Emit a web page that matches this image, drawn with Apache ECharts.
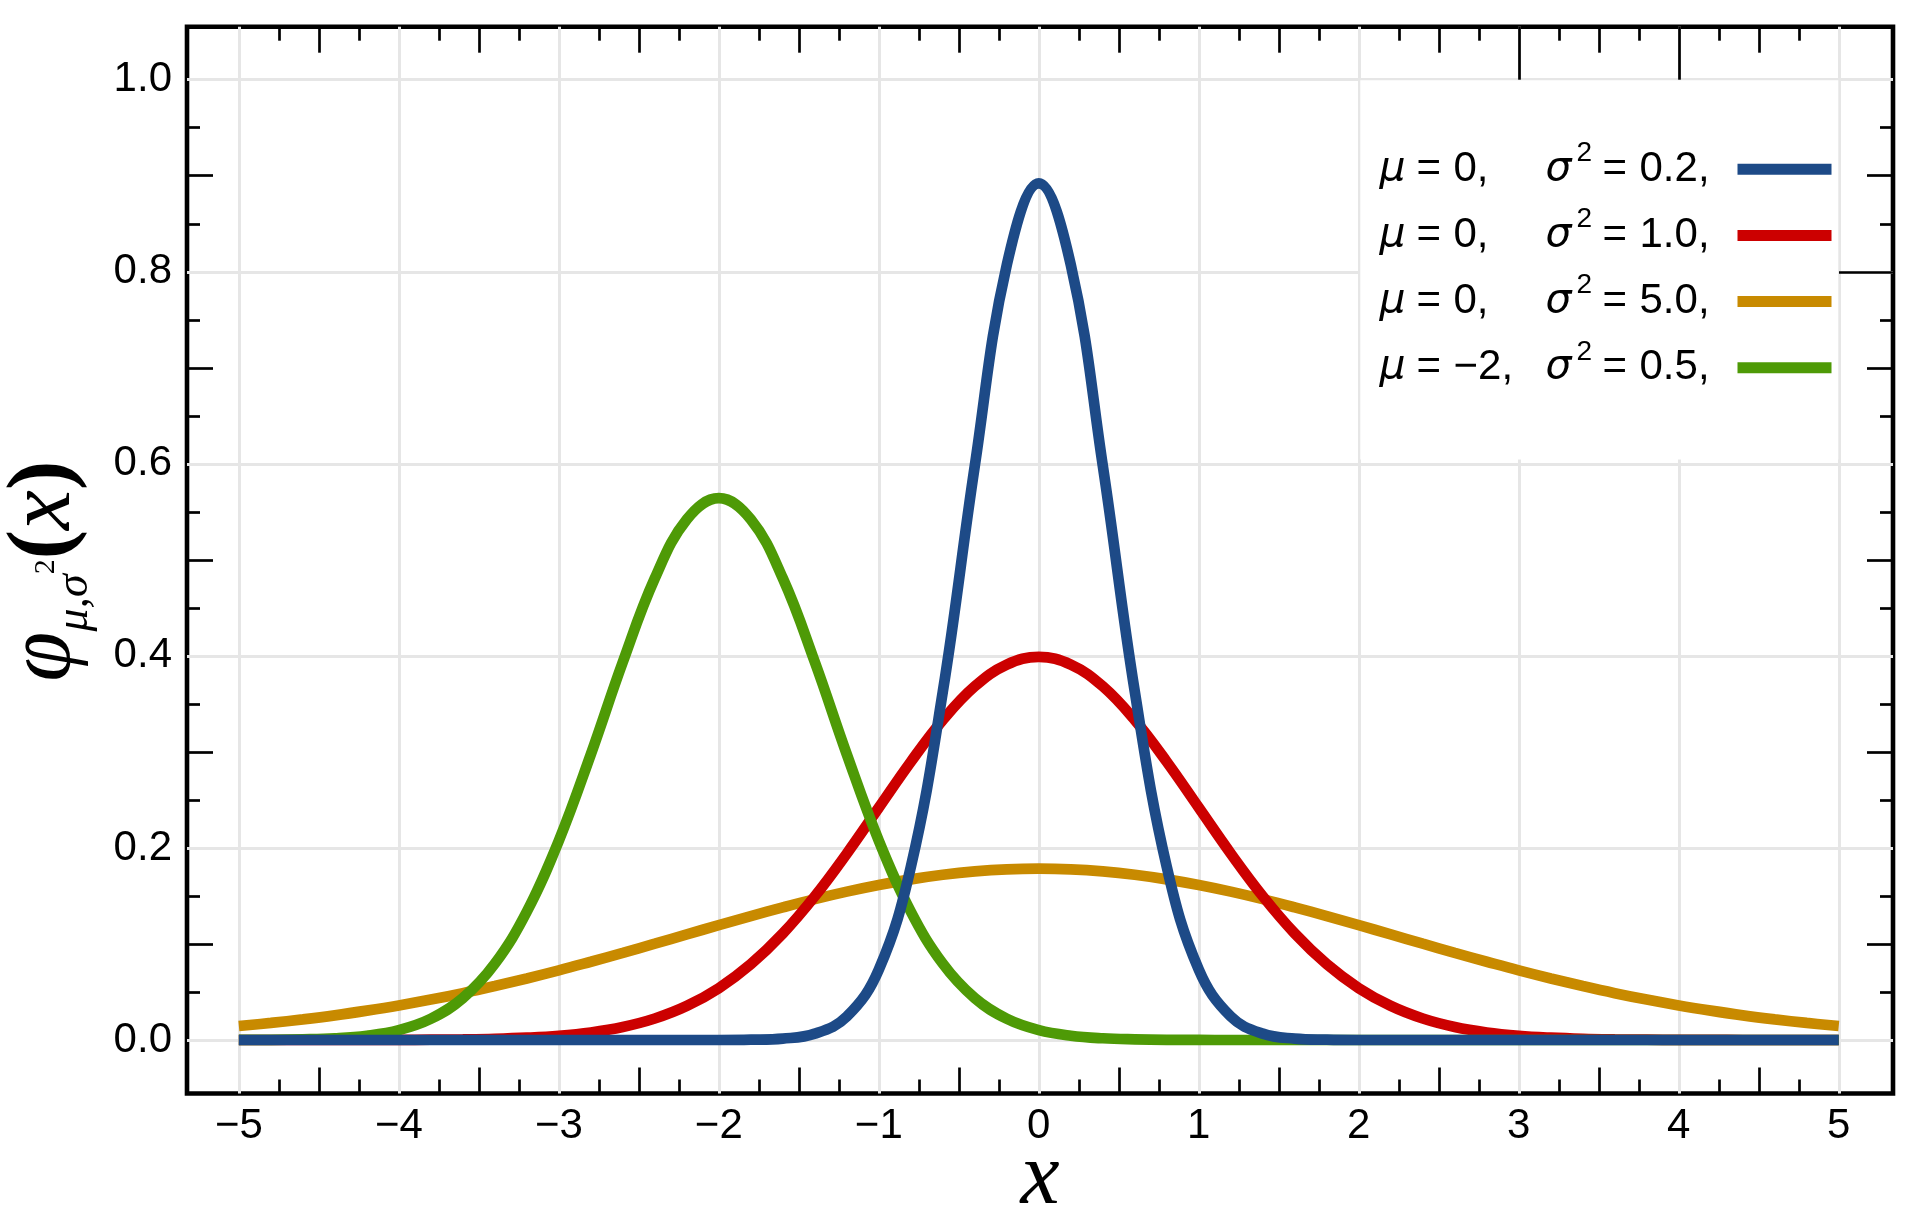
<!DOCTYPE html>
<html>
<head>
<meta charset="utf-8">
<script src="https://cdn.jsdelivr.net/npm/echarts@6/dist/echarts.min.js"></script>
<style>
html, body { margin: 0; padding: 0; background: #fff; }
#chart { width: 1920px; height: 1227px; }
</style>
</head>
<body>
<div id="chart"></div>
<script>
// sample positions along x
var xs = [-5.0, -4.8, -4.6, -4.4, -4.2, -4.0, -3.8, -3.6, -3.4, -3.2,
          -3.0, -2.8, -2.6, -2.4, -2.2, -2.0, -1.8, -1.6, -1.4, -1.2,
          -1.0, -0.8, -0.6, -0.4, -0.2, 0.0, 0.2, 0.4, 0.6, 0.8,
          1.0, 1.2, 1.4, 1.6, 1.8, 2.0, 2.2, 2.4, 2.6, 2.8,
          3.0, 3.2, 3.4, 3.6, 3.8, 4.0, 4.2, 4.4, 4.6, 4.8, 5.0]

// mu=0, var=0.2
var blueVals = [0, 0, 0, 0, 0, 0, 0, 0, 0, 0,
                0, 0, 0, 0, 0, 0, 0.0003, 0.0015, 0.0066, 0.0244,
                0.0732, 0.1801, 0.3627, 0.5980, 0.8072, 0.8921, 0.8072, 0.5980, 0.3627, 0.1801,
                0.0732, 0.0244, 0.0066, 0.0015, 0.0003, 0, 0, 0, 0, 0,
                0, 0, 0, 0, 0, 0, 0, 0, 0, 0, 0]
// mu=0, var=1.0
var redVals = [0, 0, 0, 0, 0.0001, 0.0001, 0.0003, 0.0006, 0.0012, 0.0024,
               0.0044, 0.0079, 0.0136, 0.0224, 0.0355, 0.0540, 0.0790, 0.1109, 0.1497, 0.1942,
               0.2420, 0.2897, 0.3332, 0.3683, 0.3910, 0.3989, 0.3910, 0.3683, 0.3332, 0.2897,
               0.2420, 0.1942, 0.1497, 0.1109, 0.0790, 0.0540, 0.0355, 0.0224, 0.0136, 0.0079,
               0.0044, 0.0024, 0.0012, 0.0006, 0.0003, 0.0001, 0.0001, 0, 0, 0, 0]
// mu=0, var=5.0
var orangeVals = [0.0146, 0.0178, 0.0215, 0.0257, 0.0306, 0.0360, 0.0421, 0.0488, 0.0562, 0.0641,
                  0.0725, 0.0815, 0.0907, 0.1003, 0.1100, 0.1196, 0.1290, 0.1381, 0.1467, 0.1545,
                  0.1614, 0.1673, 0.1721, 0.1756, 0.1777, 0.1784, 0.1777, 0.1756, 0.1721, 0.1673,
                  0.1614, 0.1545, 0.1467, 0.1381, 0.1290, 0.1196, 0.1100, 0.1003, 0.0907, 0.0815,
                  0.0725, 0.0641, 0.0562, 0.0488, 0.0421, 0.0360, 0.0306, 0.0257, 0.0215, 0.0178, 0.0146]
// mu=-2, var=0.5
var greenVals = [0.0001, 0.0002, 0.0007, 0.0018, 0.0045, 0.0103, 0.0221, 0.0436, 0.0795, 0.1337,
                 0.2076, 0.2975, 0.3936, 0.4808, 0.5421, 0.5642, 0.5421, 0.4808, 0.3936, 0.2975,
                 0.2076, 0.1337, 0.0795, 0.0436, 0.0221, 0.0103, 0.0045, 0.0018, 0.0007, 0.0002,
                 0.0001, 0, 0, 0, 0, 0, 0, 0, 0, 0,
                 0, 0, 0, 0, 0, 0, 0, 0, 0, 0, 0]

var xTickLabels = [-5, -4, -3, -2, -1, 0, 1, 2, 3, 4, 5]
var yTickLabels = [0, 0.2, 0.4, 0.6, 0.8, 1.0]
var muLabels = ['0', '0', '0', '\u22122']
var varLabels = ['0.2', '1.0', '5.0', '0.5']
var seriesNames = ['mu0var02', 'mu0var10', 'mu0var50', 'mum2var05']
var colors = ['#1d4a87', '#cc0000', '#c88a00', '#4e9a06']

var X_MIN = -5.324, X_MAX = 5.339
var Y_MIN = -0.0557, Y_MAX = 1.0552
var SANS = 'Liberation Sans'
var SERIF = 'Liberation Serif'
var GREEK = 'DejaVu Sans'

// minor tick positions between the labelled ones
var xQuarter = [], xHalf = []
for (var i = 0; i < xTickLabels.length - 1; i++) {
    var a = xTickLabels[i]
    xQuarter.push(a + 0.25, a + 0.75)
    xHalf.push(a + 0.5)
}
var yShort = [], yMid = []
for (var j = 0; j < yTickLabels.length - 1; j++) {
    var b = yTickLabels[j]
    yShort.push(b + 0.05, b + 0.15)
    yMid.push(b + 0.1)
}

function tickAxis(type, pos, ticks, len, extra) {
    var ax = {
        type: 'value', position: pos,
        min: type === 'x' ? X_MIN : Y_MIN,
        max: type === 'x' ? X_MAX : Y_MAX,
        axisLine: { show: false, onZero: false },
        axisTick: { show: true, inside: true, length: len, customValues: ticks,
                    lineStyle: { color: '#000', width: 2.7 } },
        axisLabel: { show: false },
        splitLine: { show: false }
    }
    return Object.assign(ax, extra || {})
}

var xAxes = [
    tickAxis('x', 'bottom', xQuarter, 14, {
        axisLabel: {
            show: true, customValues: xTickLabels, margin: 12,
            fontFamily: SANS, fontSize: 42, color: '#000',
            formatter: function (v) { return v < 0 ? '\u2212' + Math.abs(v) : String(v) }
        },
        name: 'x', nameLocation: 'middle', nameGap: 42, nameMoveOverlap: false,
        nameTextStyle: { fontFamily: SERIF, fontStyle: 'italic', fontSize: 88, color: '#000' }
    }),
    tickAxis('x', 'bottom', xHalf, 26),
    tickAxis('x', 'top', xQuarter, 14),
    tickAxis('x', 'top', xHalf, 26),
    tickAxis('x', 'top', [3, 4], 53),
    tickAxis('x', 'bottom', xTickLabels, 0, {
        axisTick: { show: false, customValues: xTickLabels },
        splitLine: { show: true, lineStyle: { color: '#e6e6e6', width: 3 } }
    })
]

var yAxes = [
    tickAxis('y', 'left', yShort, 13, {
        axisLabel: {
            show: true, customValues: yTickLabels, margin: 15,
            fontFamily: SANS, fontSize: 42, color: '#000',
            formatter: function (v) { return v.toFixed(1) }
        },
        name: '{phi|\u03c6}{sub|\u03bc,\u03c3}{sup|2}{par|(}{xi|x}{par|)}',
        nameLocation: 'middle', nameRotate: 90, nameGap: 97,
        nameTextStyle: {
            color: '#000',
            padding: [0, 22, 0, 0],
            rich: {
                phi: { fontFamily: SERIF, fontStyle: 'italic', fontSize: 90, lineHeight: 90 },
                sub: { fontFamily: SERIF, fontStyle: 'italic', fontSize: 46, lineHeight: 90, height: 30, verticalAlign: 'bottom' },
                sup: { fontFamily: SERIF, fontSize: 30, lineHeight: 90, height: 92, verticalAlign: 'top' },
                par: { fontFamily: SERIF, fontSize: 88, fontWeight: 'bold', lineHeight: 90 },
                xi: { fontFamily: SERIF, fontStyle: 'italic', fontSize: 90, lineHeight: 90 }
            }
        }
    }),
    tickAxis('y', 'left', yMid, 26),
    tickAxis('y', 'right', yShort, 13),
    tickAxis('y', 'right', yMid, 26),
    tickAxis('y', 'right', [0.8], 54),
    tickAxis('y', 'left', yTickLabels, 0, {
        axisTick: { show: false, customValues: yTickLabels },
        splitLine: { show: true, lineStyle: { color: '#e6e6e6', width: 3 } }
    })
]

function pairs(vals) {
    return xs.map(function (x, k) { return [x, vals[k]] })
}

var valueSets = [blueVals, redVals, orangeVals, greenVals]
// draw order: orange, red, green, blue on top
var drawOrder = [2, 1, 3, 0]
var series = drawOrder.map(function (k) {
    return {
        name: seriesNames[k], type: 'line', data: pairs(valueSets[k]),
        xAxisIndex: 0, yAxisIndex: 0,
        showSymbol: false, smooth: 0.4, clip: false,
        lineStyle: { color: colors[k], width: 10.7, cap: 'butt' },
        itemStyle: { color: colors[k] }
    }
})

function tok(extra) {
    return Object.assign({ fontFamily: SANS, fontSize: 42, lineHeight: 46, color: '#000', align: 'left' }, extra)
}
var legendRich = {
    mu: tok({ fontFamily: GREEK, fontStyle: 'italic', fontSize: 41, width: 37 }),
    eq: tok({ width: 37 }),
    v: tok({ width: 92 }),
    sg: tok({ fontFamily: GREEK, fontStyle: 'italic', fontSize: 41, width: 31 }),
    sp: tok({ fontSize: 28, width: 26, height: 14, verticalAlign: 'top' }),
    w: tok({ width: 93 })
}

var chart = echarts.init(document.getElementById('chart'))
chart.setOption({
    animation: false,
    backgroundColor: '#fff',
    grid: {
        left: 187, right: 27, top: 26.7, bottom: 133.5,
        outerBoundsMode: 'none', containLabel: false,
        show: true, borderColor: '#000', borderWidth: 4.6, backgroundColor: 'transparent'
    },
    legend: {
        data: seriesNames,
        orient: 'vertical', align: 'right',
        left: 1360.3, top: 80.2,
        padding: [59, 6.8, 70.6, 19.2],
        itemGap: 15.2, itemWidth: 94, itemHeight: 11,
        icon: 'rect', selectedMode: false,
        backgroundColor: '#fff',
        textStyle: { fontFamily: SANS, fontSize: 42, color: '#000', rich: legendRich },
        formatter: function (name) {
            var i = seriesNames.indexOf(name)
            return '{mu|\u03bc}{eq|=}{v|' + muLabels[i] + ',}{sg|\u03c3}{sp|2}{eq|=}{w|' + varLabels[i] + ',}'
        }
    },
    xAxis: xAxes,
    yAxis: yAxes,
    series: series
})
</script>
</body>
</html>
